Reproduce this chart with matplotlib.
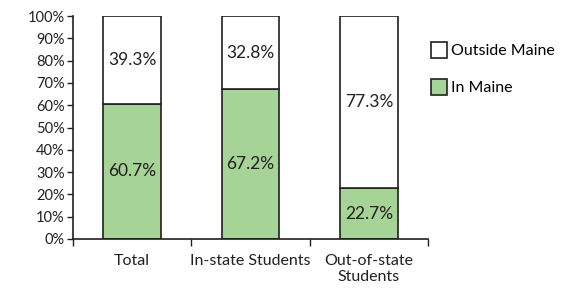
import matplotlib
matplotlib.use("Agg")
import matplotlib.pyplot as plt
from matplotlib.patches import Patch

categories = ["Total", "In-state Students", "Out-of-state\nStudents"]
in_maine = [60.7, 67.2, 22.7]
outside_maine = [39.3, 32.8, 77.3]
yticks = list(range(0, 101, 10))

plt.rcParams['font.family'] = ['Lato', 'DejaVu Sans']

green = "#a6d396"
edge = "#231f20"

fig = plt.figure(figsize=(5.82, 2.88), dpi=100)
ax = fig.add_axes([73/582, 49/288, 355/582, 223/288])
x = list(range(len(categories)))
b1 = ax.bar(x, in_maine, width=0.49, color=green, edgecolor=edge, linewidth=1.2, label="In Maine")
b2 = ax.bar(x, outside_maine, bottom=in_maine, width=0.49, color="white", edgecolor=edge, linewidth=1.2, label="Outside Maine")

for i in x:
    ax.text(i, in_maine[i] / 2, f"{in_maine[i]:.1f}%", ha="center", va="center", fontsize=12.5, color="#231f20")
    ax.text(i, in_maine[i] + outside_maine[i] / 2, f"{outside_maine[i]:.1f}%", ha="center", va="center", fontsize=12.5, color="#231f20")

ax.set_xlim(-0.5, 2.5)
ax.set_ylim(0, 100)
ax.set_yticks(yticks)
ax.set_yticklabels([f"{v}%" for v in yticks], fontsize=10.5, color="#231f20")
ax.set_xticks(x)
ax.set_xticklabels(categories, fontsize=11.5, color="#231f20", linespacing=1.15)
ax.set_xticks([-0.5, 0.5, 1.5, 2.5], minor=True)
ax.tick_params(axis="x", which="major", length=0, pad=11)
ax.tick_params(axis="x", which="minor", length=5, width=1, color=edge, direction="out")
ax.tick_params(axis="y", length=4, width=1, color=edge, direction="out", pad=2)
for s in ["top", "right"]:
    ax.spines[s].set_visible(False)
for s in ["left", "bottom"]:
    ax.spines[s].set_color(edge)
    ax.spines[s].set_linewidth(1.2)
ax.spines["left"].set_bounds(0, 100)

handles = [Patch(facecolor="white", edgecolor=edge, linewidth=1.2, label="Outside Maine"),
           Patch(facecolor=green, edgecolor=edge, linewidth=1.2, label="In Maine")]
fig.legend(handles=handles, loc="upper left", bbox_to_anchor=(417/582, 260/288), frameon=False,
           fontsize=11.5, handlelength=1.0, handleheight=1.1, handletextpad=0.2, labelspacing=1.3)

fig.savefig("out.png", dpi=100)
